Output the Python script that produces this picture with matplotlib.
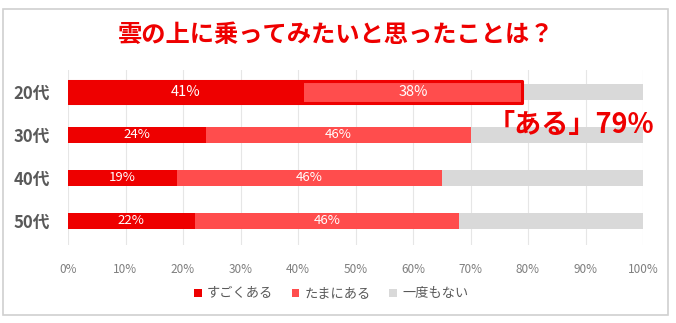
import numpy as np
import matplotlib.pyplot as plt
from matplotlib.patches import Rectangle

plt.rcParams['font.family'] = ['Noto Sans CJK JP', 'DejaVu Sans']

# データ
ages = ['20代', '30代', '40代', '50代']
sugoku = [41, 24, 19, 22]      # すごくある
tamani = [38, 46, 46, 46]      # たまにある
ichido = [21, 30, 35, 32]      # 一度もない
series_names = ['すごくある', 'たまにある', '一度もない']
colors = ['#EE0000', '#FF4D4D', '#D9D9D9']

fig = plt.figure(figsize=(6.76, 3.23), dpi=100)
ax = fig.add_axes([68/676, 1-245/323, (643-68)/676, (245-70)/323])

y = np.arange(len(ages))
h = np.array([0.52, 0.39, 0.39, 0.39])
left = np.zeros(len(ages))
for vals, c, name in zip([sugoku, tamani, ichido], colors, series_names):
    hh = h if c != '#D9D9D9' else np.full(len(ages), 0.39)
    ax.barh(y, vals, left=left, height=hh, color=c, label=name, zorder=2)
    left = left + np.array(vals)

# 20代の枠
tot20 = sugoku[0] + tamani[0]
ax.add_patch(Rectangle((0, -0.26), tot20, 0.52, fill=False, edgecolor='#EE0000',
                       linewidth=2.2, joinstyle='round', zorder=3))

# ラベル
for i in range(len(ages)):
    fs = 10.5 if i == 0 else 9.5
    ax.text(sugoku[i]/2, i, f'{sugoku[i]}%', color='white', ha='center', va='center',
            fontsize=fs, zorder=4)
    ax.text(sugoku[i] + tamani[i]/2, i, f'{tamani[i]}%', color='white', ha='center',
            va='center', fontsize=fs, zorder=4)

ax.text(102, 0.76, '「ある」79%', color='#EE0000', fontsize=19.5, fontweight='bold',
        ha='right', va='center', zorder=5)

ax.set_xlim(0, 100)
ax.set_ylim(3.56, -0.51)
ax.set_xticks(np.arange(0, 101, 10))
ax.set_xticklabels([f'{v}%' for v in range(0, 101, 10)], color='#7F7F7F', fontsize=8.5)
ax.set_yticks(y)
ax.set_yticklabels(ages, fontsize=12, fontweight='bold', color='#595959')
ax.tick_params(axis='both', length=0)
ax.tick_params(axis='x', pad=13)
ax.tick_params(axis='y', pad=13)
ax.xaxis.grid(True, color='#E6E6E6', linewidth=0.8, zorder=0)
ax.set_axisbelow(True)
for s in ax.spines.values():
    s.set_visible(False)

fig.text(0.497, 1-35/323, '雲の上に乗ってみたいと思ったことは？', color='#EE0000',
         fontsize=17.5, fontweight='bold', ha='center', va='center')

fig.legend(loc='center', bbox_to_anchor=(0.49, 1-294/323), ncol=3, frameon=False,
           fontsize=9.5, handlelength=0.6, handleheight=0.6, handletextpad=0.4,
           columnspacing=1.4, labelcolor='#595959')

fig.patches.append(Rectangle((3/676, 1-315/323), 665/676, 306/323, transform=fig.transFigure,
                             fill=False, edgecolor='#D0D0D0', linewidth=1.2))

plt.savefig('out.png', dpi=100)
